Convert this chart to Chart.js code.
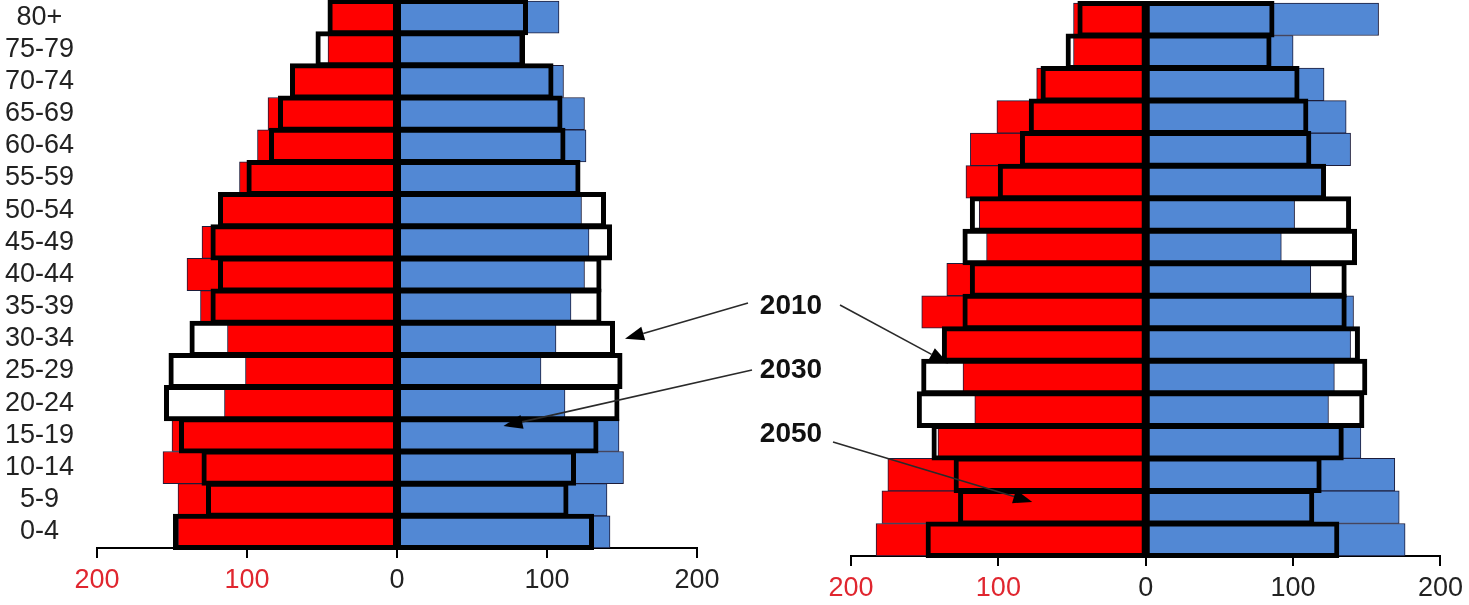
<!DOCTYPE html>
<html>
<head>
<meta charset="utf-8">
<script src="https://cdn.jsdelivr.net/npm/chart.js@4.4.1/dist/chart.umd.min.js"></script>
<style>
html,body{margin:0;padding:0;background:#fff;width:1469px;height:605px;overflow:hidden;}
#wrapL{position:absolute;left:0;top:0;width:730px;height:605px;}
#wrapR{position:absolute;left:800px;top:0;width:669px;height:605px;}
#ann{position:absolute;left:0;top:0;width:1469px;height:605px;pointer-events:none;}
.lbl{position:absolute;font:bold 28px "Liberation Sans",Arial,sans-serif;color:#111;transform:translate(-50%,-50%);white-space:nowrap;}
</style>
</head>
<body>
<div id="wrapL"><canvas id="cL"></canvas></div>
<div id="wrapR"><canvas id="cR"></canvas></div>
<svg id="ann" xmlns="http://www.w3.org/2000/svg"></svg>
<div class="lbl" style="left:791px;top:305px">2010</div>
<div class="lbl" style="left:791px;top:369px">2030</div>
<div class="lbl" style="left:791px;top:433px">2050</div>
<script>
// ---- data (bottom row first) ----
const ageGroups = ['0-4','5-9','10-14','15-19','20-24','25-29','30-34','35-39','40-44','45-49','50-54','55-59','60-64','65-69','70-74','75-79','80+'];
const male2010   = [148,126,129,144,154,151,137,123,118,123,118, 99, 84, 78, 70, 53, 45];
const female2010 = [130,113,118,133,147,149,144,135,135,142,138,121,111,109,103, 84, 86];
const male2030   = [146,146,156,150,115,101,113,131,140,130,117,105, 93, 86, 69, 46, 45];
const female2030 = [142,140,151,148,112, 96,106,116,125,128,123,120,126,125,111, 82,108];
const male2050   = [183,179,175,141,116,124,138,152,135,108,113,122,119,101, 74, 49, 49];
const female2050 = [176,172,169,146,124,128,139,141,112, 92,101,121,139,136,121,100,158];
const xTickValues = [-200,-100,0,100,200];

const RED = '#ff0000';
const BLUE = '#5288d4';
const EDGE = '#1c1c3a';
const RED_TXT = '#e0262f';
const TXT = '#222222';
const FAMILY = '"Liberation Sans", Arial, sans-serif';

const neg = a => a.map(v => -v);

function makeDatasets(mCol, fCol) {
  const base = {grouped:false, categoryPercentage:1, barPercentage:1, borderSkipped:false, clip:false};
  return [
    Object.assign({}, base, {data:neg(male2010), backgroundColor:'#ffffff', borderWidth:0, order:3}),
    Object.assign({}, base, {data:female2010, backgroundColor:'#ffffff', borderWidth:0, order:3}),
    Object.assign({}, base, {data:neg(mCol), backgroundColor:RED, borderColor:EDGE, borderWidth:1, order:2}),
    Object.assign({}, base, {data:fCol, backgroundColor:BLUE, borderColor:EDGE, borderWidth:1, order:2}),
    Object.assign({}, base, {data:neg(male2010), backgroundColor:'rgba(0,0,0,0)', borderColor:'#000', borderWidth:1, inflateAmount:2, order:1}),
    Object.assign({}, base, {data:female2010, backgroundColor:'rgba(0,0,0,0)', borderColor:'#000', borderWidth:1, inflateAmount:2, order:1})
  ];
}

function makeOptions(showY, padding, xHeight) {
  return {
    indexAxis:'y',
    responsive:true,
    maintainAspectRatio:false,
    animation:false,
    events:[],
    layout:{padding:padding},
    plugins:{legend:{display:false}, tooltip:{enabled:false}},
    scales:{
      x:{
        type:'linear', min:-200, max:200,
        afterBuildTicks: s => { s.ticks = xTickValues.map(v => ({value:v})); },
        afterFit: s => { s.height = xHeight; },
        ticks:{
          autoSkip:false, maxRotation:0, padding:6,
          callback: v => String(Math.abs(v)),
          color: ctx => (ctx.tick && ctx.tick.value < 0) ? RED_TXT : TXT,
          font:{family:FAMILY, size:27}
        },
        grid:{drawOnChartArea:false, drawTicks:true, tickLength:10, color:'#000', lineWidth:2},
        border:{display:true, color:'#000', width:2}
      },
      y:{
        type:'category', labels:ageGroups, reverse:true, offset:true,
        display: showY,
        afterFit: s => { if (showY) { s.width = 97; } s.paddingTop = 0; s.paddingBottom = 0; },
        grid:{display:false, drawTicks:false},
        border:{display:false},
        ticks:{autoSkip:false, crossAlign:'center', padding:23, color:TXT, font:{family:FAMILY, size:27}}
      }
    }
  };
}

const chartL = new Chart(document.getElementById('cL'), {
  type:'bar',
  data:{labels:ageGroups, datasets:makeDatasets(male2030, female2030)},
  options:makeOptions(true, {top:1, left:0, right:33, bottom:0}, 57)
});
const chartR = new Chart(document.getElementById('cR'), {
  type:'bar',
  data:{labels:ageGroups, datasets:makeDatasets(male2050, female2050)},
  options:makeOptions(false, {top:3, left:51, right:26, bottom:0}, 49)
});

// ---- annotation arrows: start near label text, tip given in data terms ----
const arrows = [
  {from:[748,303], chart:chartL, x:152,  y:6.0},
  {from:[752,370], chart:chartL, x:71,   y:3.29},
  {from:[840,305], chart:chartR, x:-134, y:5.42},
  {from:[833,442], chart:chartR, x:-77,  y:1.16}
];
function drawArrows() {
  const svg = document.getElementById('ann');
  const NS = 'http://www.w3.org/2000/svg';
  while (svg.firstChild) svg.removeChild(svg.firstChild);
  arrows.forEach(a => {
    const r = a.chart.canvas.getBoundingClientRect();
    const tx = r.left + a.chart.scales.x.getPixelForValue(a.x);
    const ty = r.top + a.chart.scales.y.getPixelForValue(a.y);
    const [sx, sy] = a.from;
    const dx = tx - sx, dy = ty - sy, L = Math.hypot(dx, dy);
    const ux = dx / L, uy = dy / L;
    const hl = 19, hw = 7;
    const bx = tx - ux * hl, by = ty - uy * hl;
    const line = document.createElementNS(NS, 'line');
    line.setAttribute('x1', sx); line.setAttribute('y1', sy);
    line.setAttribute('x2', bx); line.setAttribute('y2', by);
    line.setAttribute('stroke', '#2a2a2a'); line.setAttribute('stroke-width', '1.6');
    svg.appendChild(line);
    const poly = document.createElementNS(NS, 'polygon');
    const p1 = [bx - uy * hw, by + ux * hw], p2 = [bx + uy * hw, by - ux * hw];
    poly.setAttribute('points', `${tx},${ty} ${p1[0]},${p1[1]} ${p2[0]},${p2[1]}`);
    poly.setAttribute('fill', '#000');
    svg.appendChild(poly);
  });
}
drawArrows();
</script>
</body>
</html>
